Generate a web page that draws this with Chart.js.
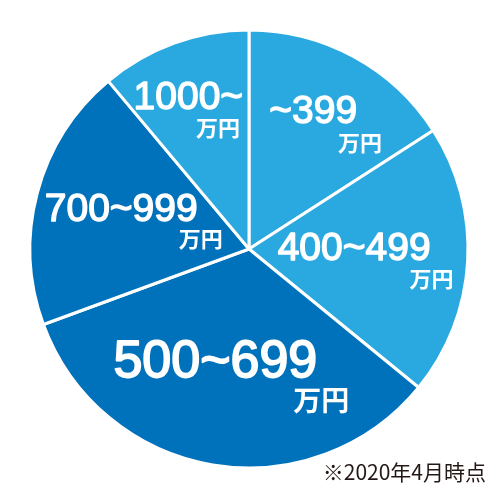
<!DOCTYPE html>
<html lang="ja">
<head>
<meta charset="utf-8">
<script src="https://cdn.jsdelivr.net/npm/chart.js@4/dist/chart.umd.min.js"></script>
<style>
  html, body { margin: 0; padding: 0; background: #fff; }
  #wrap { width: 500px; height: 500px; }
</style>
</head>
<body>
<div id="wrap"><canvas id="incomeChart" width="500" height="500"></canvas></div>
<script>
// ---- data (clockwise from 12 o'clock) ----
const categories = ['~399', '400~499', '500~699', '700~999', '1000~'];
const shares = [15.9, 20.0, 33.5, 19.5, 11.1];
const unitLabel = '万円';
const footNote = '※2020年4月時点';

const LIGHT = '#2aa9e0';
const DARK = '#0071bb';
const sliceColors = [LIGHT, LIGHT, DARK, DARK, LIGHT];

// label placement per slice: angle shift (deg), radius fraction, font px, unit dx, unit dy, unit font px
const labelLayout = [
  { shift: -3.5, f: 0.69, size: 39, ux: 25, uy: 30, us: 22 },
  { shift: -3,   f: 0.48, size: 39, ux: 23, uy: 29, us: 22 },
  { shift: 7,    f: 0.54, size: 52, ux: 32, uy: 38, us: 28 },
  { shift: 2,    f: 0.61, size: 39, ux: 25, uy: 29, us: 22 },
  { shift: -2,   f: 0.74, size: 39, ux: -3, uy: 29, us: 22 }
];

const sliceLabels = {
  id: 'sliceLabels',
  afterDatasetsDraw(chart){
    const ctx = chart.ctx;
    const arcs = chart.getDatasetMeta(0).data;
    ctx.save();
    arcs.forEach((arc, i) => {
      const lay = labelLayout[i];
      const mid = (arc.startAngle + arc.endAngle) / 2 + lay.shift * Math.PI / 180;
      const r = arc.outerRadius * lay.f;
      const x = arc.x + Math.cos(mid) * r;
      const y = arc.y + Math.sin(mid) * r;
      ctx.fillStyle = '#fff';
      ctx.strokeStyle = '#fff';
      ctx.lineJoin = 'round';
      ctx.lineWidth = lay.size / 28;   // thicken regular face to a medium weight
      ctx.textBaseline = 'middle';
      ctx.textAlign = 'center';
      ctx.font = `${lay.size}px "Liberation Sans", Arial, sans-serif`;
      ctx.fillText(categories[i], x, y);
      ctx.strokeText(categories[i], x, y);
      const w = ctx.measureText(categories[i]).width;
      ctx.textAlign = 'right';
      ctx.font = `bold ${lay.us}px "Noto Sans CJK JP", sans-serif`;
      ctx.fillText(unitLabel, x + w / 2 + lay.ux, y + lay.uy);
    });
    // footnote
    ctx.fillStyle = '#231815';
    ctx.textAlign = 'right';
    ctx.textBaseline = 'middle';
    ctx.font = '21px "Noto Sans CJK JP", sans-serif';
    ctx.fillText(footNote, 486, 472);
    ctx.restore();
  }
};

new Chart(document.getElementById('incomeChart'), {
  type: 'pie',
  data: {
    labels: categories,
    datasets: [{
      data: shares,
      backgroundColor: sliceColors,
      borderColor: '#fff',
      borderWidth: 3,
      hoverOffset: 0,
      radius: 219
    }]
  },
  options: {
    responsive: false,
    animation: false,
    layout: { padding: { left: 0, right: 2, top: 0, bottom: 2 } },
    plugins: { legend: { display: false }, tooltip: { enabled: false } }
  },
  plugins: [sliceLabels]
});
</script>
</body>
</html>
